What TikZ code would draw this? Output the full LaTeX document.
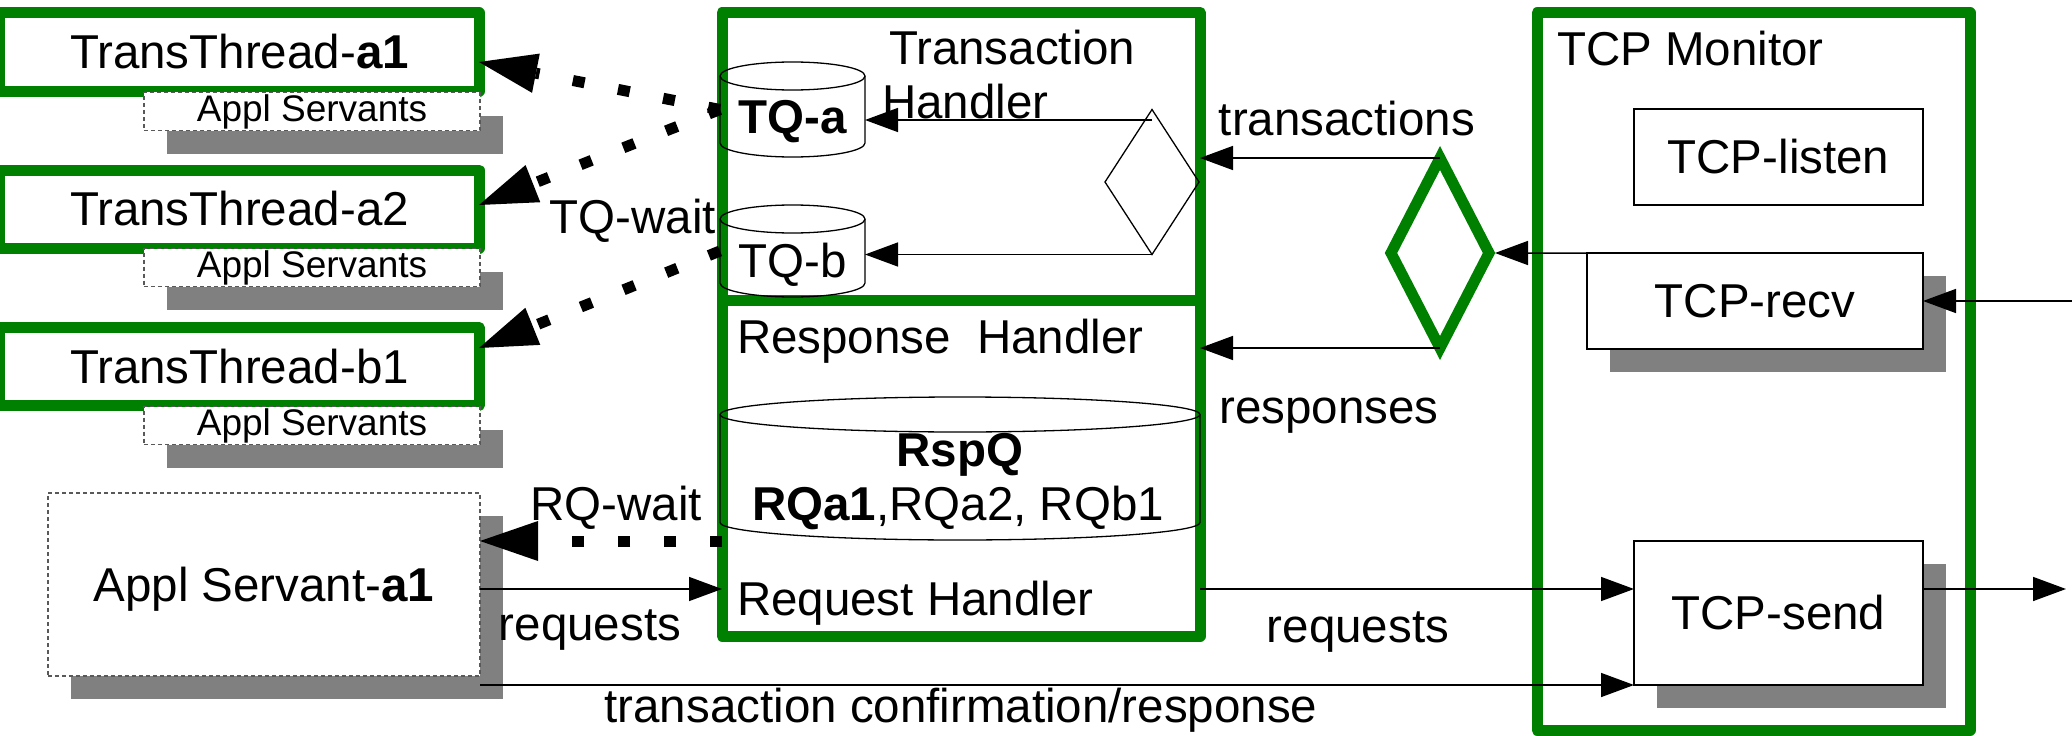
\documentclass[tikz,border=0pt]{standalone}
\usepackage{fontspec}
\setmainfont{Liberation Sans}
\usetikzlibrary{arrows.meta,shapes.geometric,shadows}
\definecolor{grn}{RGB}{0,128,0}
\definecolor{shd}{RGB}{128,128,128}
\begin{document}
\begin{tikzpicture}[x=1bp,y=-1bp,
  every node/.style={outer sep=0pt,inner sep=0pt},
  lbl/.style={font=\fontsize{47.5bp}{57bp}\selectfont},
  slbl/.style={font=\fontsize{37bp}{44bp}\selectfont},
  gbox/.style={draw=grn,line width=11bp,line join=round,fill=white,lbl},
  dbox/.style={draw=black!65,line width=1.3bp,dash pattern=on 4bp off 3bp,fill=white},
  tbox/.style={draw=black,line width=1.5bp,fill=white,lbl},
  shad/.style={drop shadow={shadow xshift=23bp,shadow yshift=-23bp,fill=shd,opacity=1}},
  cyl/.style={draw=black,line width=1.3bp},
  arr/.style={draw=black,line width=1.5bp,-{Triangle[length=33bp,width=24bp]}},
  dotarr/.style={draw=black,line width=11bp,dash pattern=on 12bp off 34bp,-{Triangle[length=58bp,width=40bp,line width=0bp]}},
]
\useasboundingbox[fill=white] (0,0) rectangle (2072,736);

% left column
\node[gbox,minimum width=479bp,minimum height=78bp] (a1) at (239.5,52) {TransThread-\textbf{a1}};
\node[gbox,minimum width=479bp,minimum height=78bp] (a2) at (239.5,209) {TransThread-a2};
\node[gbox,minimum width=479bp,minimum height=78bp] (b1) at (239.5,366.5) {TransThread-b1};
\node[dbox,shad,slbl,minimum width=336bp,minimum height=38bp] (as1) at (312,111.5) {Appl Servants};
\node[dbox,shad,slbl,minimum width=336bp,minimum height=38bp] (as2) at (312,267.5) {Appl Servants};
\node[dbox,shad,slbl,minimum width=336bp,minimum height=38bp] (as3) at (312,425.5) {Appl Servants};
\node[dbox,shad,lbl,minimum width=432bp,minimum height=183bp,text depth=0bp] (appsrv) at (264,584.5) {Appl Servant-\textbf{a1}};

% handlers
\node[gbox,minimum width=478bp,minimum height=287.5bp] (th) at (961,156.25) {};
\node[gbox,minimum width=478bp,minimum height=336bp] (rh) at (961,468) {};

% TCP monitor
\node[gbox,minimum width=433bp,minimum height=717bp] (tcpmon) at (1753.5,371.5) {};
\node[tbox,minimum width=289bp,minimum height=96bp] (tcplisten) at (1778.5,157) {TCP-listen};
\node[tbox,shad,minimum width=336bp,minimum height=96bp] (tcprecv) at (1755,301) {TCP-recv};
\node[tbox,shad,minimum width=289bp,minimum height=144bp] (tcpsend) at (1778.5,613) {TCP-send};

% cylinders
\node[minimum width=145bp,minimum height=95bp] (tqa) at (792.5,109.5) {};
\node[minimum width=145bp,minimum height=92bp] (tqb) at (792.5,251) {};
\draw[cyl] (720,76) -- (720,143) arc[start angle=180,end angle=0,x radius=72.5,y radius=14] -- (865,76);
\draw[cyl] (792.5,76) ellipse [x radius=72.5,y radius=14];
\draw[cyl] (720,219) -- (720,283) arc[start angle=180,end angle=0,x radius=72.5,y radius=14] -- (865,219);
\draw[cyl] (792.5,219) ellipse [x radius=72.5,y radius=14];
\draw[cyl] (720,414.5) -- (720,522.5) arc[start angle=180,end angle=0,x radius=240,y radius=17.5] -- (1200,414.5);
\draw[cyl] (960,414.5) ellipse [x radius=240,y radius=17.5];

% diamonds
\node[diamond,draw=black,line width=1.3bp,minimum width=94bp,minimum height=145bp] (dia) at (1152,182) {};
\node[diamond,draw=grn,line width=11bp,minimum width=98bp,minimum height=190bp] (gdia) at (1440,253) {};

% texts
\node[lbl,anchor=base west] (tht1) at (889,65) {Transaction};
\node[lbl,anchor=base west] (tht2) at (882,118) {Handler};
\node[lbl,anchor=base] (tqat) at (793,133) {\textbf{TQ-a}};
\node[lbl,anchor=base] (tqbt) at (793,277) {TQ-b};
\node[lbl,anchor=base west] (rht) at (737,353) {Response~~Handler};
\node[lbl,anchor=base] (rspq) at (960,466) {\textbf{RspQ}};
\node[lbl,anchor=base] (rqs) at (958,520) {\textbf{RQa1},RQa2, RQb1};
\node[lbl,anchor=base west] (reqh) at (737,615) {Request Handler};
\node[lbl,anchor=base west] (tcpm) at (1557,66) {TCP Monitor};
\node[lbl,anchor=base] (tqw) at (633,233) {TQ-wait};
\node[lbl,anchor=base] (rqwt) at (616,520) {RQ-wait};
\node[lbl,anchor=base] (req1) at (590,640) {requests};
\node[lbl,anchor=base] (req2) at (1358,642) {requests};
\node[lbl,anchor=base] (trs) at (1347,135) {transactions};
\node[lbl,anchor=base] (rsp) at (1329,423) {responses};
\node[lbl,anchor=base] (tcr) at (961,722) {transaction confirmation/response};

% helper coordinates
\coordinate (rqy) at (0,589);
\coordinate (rqwy) at (0,541);
\coordinate (inR) at (2072,301);
\coordinate (outR) at (2066,589);
\coordinate (d1) at ([yshift=-10.5bp]dia.north);
\coordinate (g1) at ([xshift=6bp]gdia.east);

% dotted wait arrows
\draw[dotarr] (tqa.west) -- ([yshift=-10bp]a1.east);
\draw[dotarr] (tqa.west) -- ([yshift=4bp]a2.east);
\draw[dotarr] (tqb.west) -- ([yshift=18.5bp]b1.east);
\draw[dotarr] (rh.west |- rqwy) -- (appsrv.east |- rqwy);

% thin arrows
\draw[arr] (d1) -- (d1 -| tqa.east);
\draw[arr] (dia.south) -- (dia.south -| tqb.east);
\draw[arr] (gdia.north) -- (gdia.north -| th.east);
\draw[arr] (gdia.south) -- (gdia.south -| rh.east);
\draw[arr] (tcprecv.north -| tcplisten.west) -- (g1);
\draw[arr] (inR) -- (tcprecv.east);
\draw[arr] (tcpsend.east |- outR) -- (outR);
\draw[arr] (appsrv.east |- rqy) -- (rh.west |- rqy);
\draw[arr] (rh.east |- rqy) -- (tcpsend.west |- rqy);
\draw[arr] (appsrv.east |- tcpsend.south west) -- (tcpsend.south west);
\end{tikzpicture}
\end{document}
